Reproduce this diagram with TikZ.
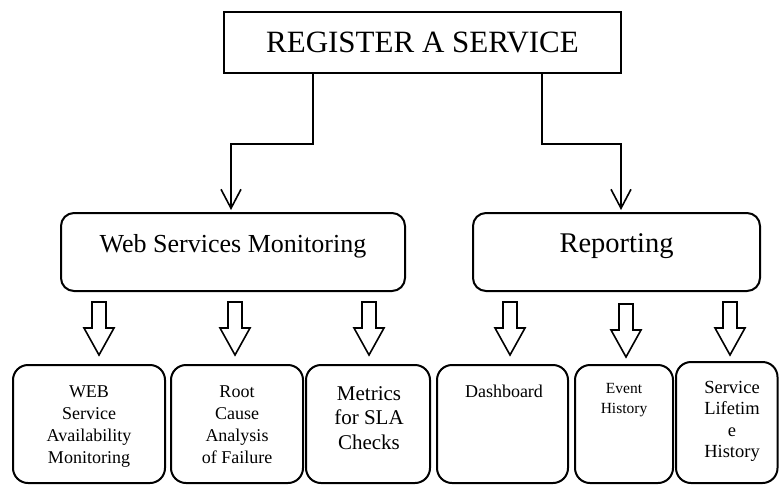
\documentclass[tikz,border=0pt]{standalone}
\usepackage{fontspec}
\setmainfont{Liberation Serif}
\usetikzlibrary{arrows.meta}
\def\hollowarrow(#1,#2){\draw[line width=1.6pt] (#1-7,#2) -- (#1+7,#2) -- (#1+7,#2+26) -- (#1+15,#2+26) -- (#1,#2+53) -- (#1-15,#2+26) -- (#1-7,#2+26) -- cycle;}

\begin{document}
\begin{tikzpicture}[x=1pt,y=-1pt,
		topbox/.style={draw,line width=2pt,minimum width=397pt,minimum height=61pt,font=\fontsize{31}{36}\selectfont},
		midbox/.style={draw,line width=2pt,rounded corners=13pt,minimum height=78pt,text height=18pt,text depth=18pt},
		lowbox/.style={draw,line width=2pt,rounded corners=15pt,minimum height=118pt},
		lowtext/.style={anchor=north,align=center,inner sep=0pt},
		conn/.style={line width=1.6pt,shorten >=2pt,-{Straight Barb[length=19pt,width=20pt]}}]
			%%%%% START %%%%%
			\useasboundingbox (0,0) rectangle (779,485);
			
			\node[topbox] (register) at (422.5,42.5) {REGISTER A SERVICE};
			
			\node[midbox,minimum width=344pt,font=\fontsize{26}{30}\selectfont] (wsm) at (233,252) {Web Services Monitoring};
			\node[midbox,minimum width=287pt,font=\fontsize{28.5}{33}\selectfont] (rep) at (616.5,252) {Reporting};
			
			\draw[conn] ([xshift=-109.5pt]register.south) -- ++(0,70) -| ([xshift=-2pt]wsm.north);
			\draw[conn] ([xshift=119.5pt]register.south) -- ++(0,70) -| ([xshift=4.5pt]rep.north);
			
			\hollowarrow(99,302)
			\hollowarrow(235,302)
			\hollowarrow(369,302)
			\hollowarrow(510,302)
			\hollowarrow(626,304)
			\hollowarrow(730,302)
			
			\node[lowbox,minimum width=152pt] (avail) at (89,424) {};
			\node[lowbox,minimum width=132pt] (rootcause) at (237,424) {};
			\node[lowbox,minimum width=124pt] (metrics) at (368,424) {};
			\node[lowbox,minimum width=131pt] (dashboard) at (502.5,424) {};
			\node[lowbox,minimum width=98pt] (events) at (624,424) {};
			\node[lowbox,minimum width=101.5pt,minimum height=121pt] (lifetime) at (726.75,422.5) {};
			
			\node[lowtext,font=\fontsize{18}{21.7}\selectfont] (availtxt) at (89,386) {WEB\\Service\\Availability\\Monitoring};
			\node[lowtext,font=\fontsize{18}{21.7}\selectfont] (rootcausetxt) at (237,386) {Root\\Cause\\Analysis\\of Failure};
			\node[lowtext,font=\fontsize{21}{24.5}\selectfont] (metricstxt) at (369,386) {Metrics\\for SLA\\Checks};
			\node[lowtext,font=\fontsize{18}{21.7}\selectfont] (dashboardtxt) at (504,385) {Dashboard};
			\node[lowtext,font=\fontsize{15.5}{20}\selectfont] (eventstxt) at (624,383) {Event\\History};
			\node[lowtext,font=\fontsize{18.5}{21.3}\selectfont] (lifetimetxt) at (732,381) {Service\\Lifetim\\e\\History};
			%%%%% END %%%%%
\end{tikzpicture}
\end{document}
